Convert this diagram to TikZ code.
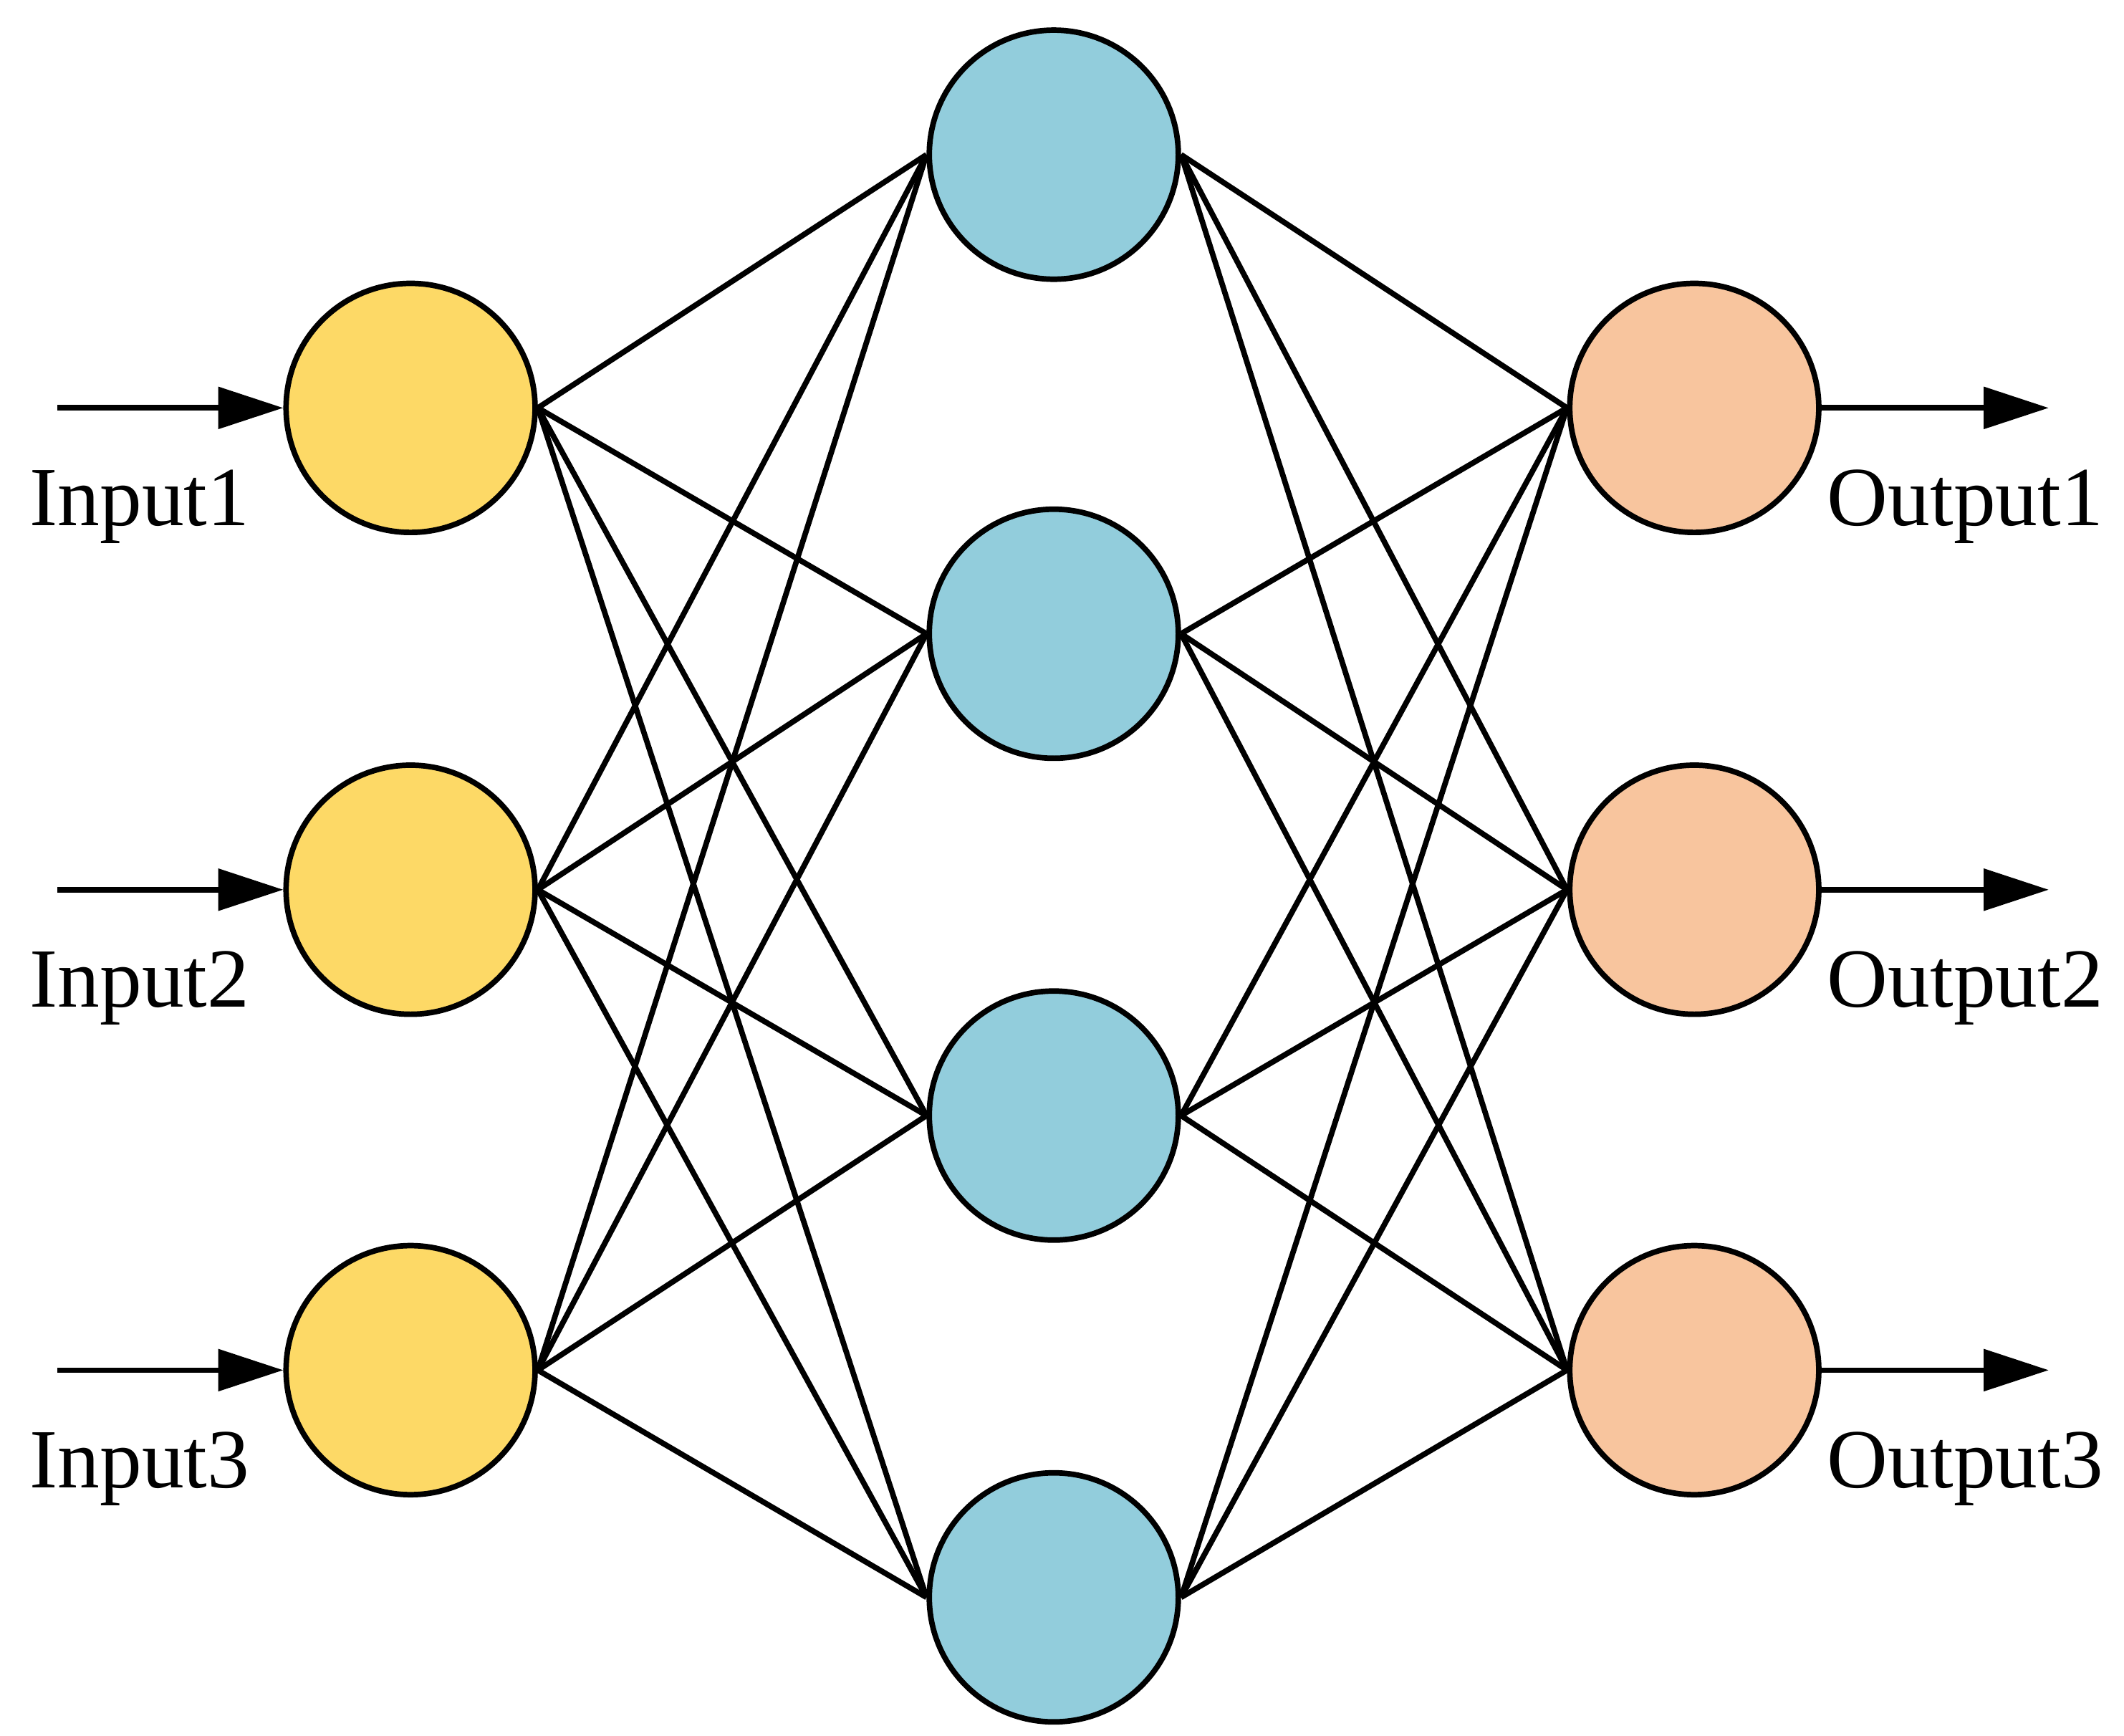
\documentclass[tikz,border=0pt]{standalone}
\usepackage{fontspec}
\setmainfont{Liberation Serif}
\usetikzlibrary{arrows.meta}
\definecolor{inc}{HTML}{FDD966}
\definecolor{hidc}{HTML}{92CDDC}
\definecolor{outc}{HTML}{F8C59E}
\begin{document}
\begin{tikzpicture}[x=0.02cm,y=-0.02cm,
  neuron/.style={circle,draw=black,line width=2.3pt,minimum size=3.64cm,inner sep=0pt},
  conn/.style={line width=2.3pt},
  io/.style={line width=2.3pt,-{Triangle[length=0.95cm,width=0.6cm]}},
  lbl/.style={font=\fontsize{35}{40}\selectfont}]
\useasboundingbox (0,0) rectangle (1552,1268);
\foreach \i/\y in {1/298,2/650,3/1001}{
  \node[neuron,fill=inc] (i\i) at (300,\y) {};
  \node[neuron,fill=outc] (o\i) at (1238,\y) {};
  \coordinate (s\i) at (42,\y);
  \coordinate (e\i) at (1497,\y);
  \draw[io] (s\i) -- (i\i.west);
  \draw[io] (o\i.east) -- (e\i);
}
\foreach \j/\y in {1/113,2/463,3/815,4/1167}{
  \node[neuron,fill=hidc] (h\j) at (770,\y) {};
}
\foreach \i in {1,2,3}{\foreach \j in {1,2,3,4}{
  \draw[conn] (i\i.east) -- (h\j.west);
  \draw[conn] (h\j.east) -- (o\i.west);
}}
\node[lbl] (l1) at (102,370) {Input1};
\node[lbl] (l2) at (102,722) {Input2};
\node[lbl] (l3) at (102,1073) {Input3};
\node[lbl] (m1) at (1436,370) {Output1};
\node[lbl] (m2) at (1436,722) {Output2};
\node[lbl] (m3) at (1436,1073) {Output3};
\end{tikzpicture}
\end{document}
